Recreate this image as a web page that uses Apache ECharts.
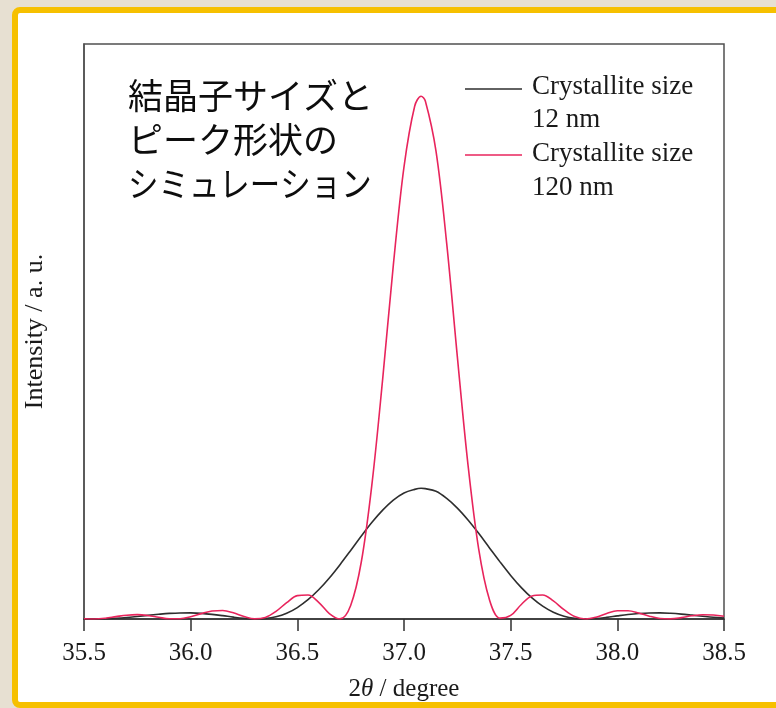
<!DOCTYPE html>
<html>
<head>
<meta charset="utf-8">
<script src="https://cdn.jsdelivr.net/npm/echarts@6/dist/echarts.min.js"></script>
<style>
  html, body { margin: 0; padding: 0; width: 776px; height: 708px; overflow: hidden;
    background: #e7e0d2; }
  #frame { position: absolute; left: 12px; top: 7px; width: 800px; height: 689px;
    border: 6px solid #f6c000; border-radius: 8px; background: #ffffff; }
  #chart { position: absolute; left: 0; top: 0; width: 776px; height: 708px; }
</style>
</head>
<body>
<div id="frame"></div>
<div id="chart"></div>
<script>
// Diffraction angle 2θ (degree)
const twoTheta = [
  35.50, 35.55, 35.60, 35.65, 35.70, 35.75, 35.80, 35.85, 35.90, 35.95,
  36.00, 36.05, 36.10, 36.15, 36.20, 36.25, 36.30, 36.35, 36.40, 36.45,
  36.50, 36.55, 36.60, 36.65, 36.70, 36.75, 36.80, 36.85, 36.90, 36.95,
  37.00, 37.05, 37.08, 37.10, 37.15, 37.20, 37.25, 37.30, 37.35, 37.40,
  37.45, 37.50, 37.55, 37.60, 37.65, 37.70, 37.75, 37.80, 37.85, 37.90,
  37.95, 38.00, 38.05, 38.10, 38.15, 38.20, 38.25, 38.30, 38.35, 38.40,
  38.45, 38.50
];

// Intensity (a. u.) for crystallite size 12 nm
const intensity12nm = [
  0.02, 0.00, 0.04, 0.14, 0.29, 0.49, 0.70, 0.90, 1.07, 1.16,
  1.17, 1.08, 0.89, 0.64, 0.36, 0.13, 0.00, 0.08, 0.42, 1.10,
  2.19, 3.69, 5.59, 7.85, 10.40, 13.11, 15.88, 18.50, 20.82, 22.75,
  24.12, 24.80, 25.00, 24.94, 24.42, 23.06, 21.22, 18.95, 16.39, 13.65,
  10.93, 8.34, 6.01, 4.03, 2.45, 1.29, 0.53, 0.12, 0.00, 0.09,
  0.31, 0.59, 0.85, 1.05, 1.16, 1.17, 1.09, 0.94, 0.74, 0.53,
  0.33, 0.17
];

// Intensity (a. u.) for crystallite size 120 nm
const intensity120nm = [
  0.06, 0.00, 0.15, 0.45, 0.73, 0.83, 0.67, 0.33, 0.04, 0.05,
  0.43, 1.03, 1.53, 1.62, 1.19, 0.48, 0.02, 0.29, 1.46, 3.13,
  4.47, 4.59, 3.20, 1.05, 0.02, 2.60, 10.95, 25.9, 45.9, 67.7,
  86.5, 98.1, 100.0, 99.1, 89.5, 71.9, 50.2, 29.5, 13.4, 3.76,
  0.16, 0.68, 2.78, 4.42, 4.60, 3.45, 1.78, 0.46, 0.00, 0.35,
  1.05, 1.57, 1.59, 1.15, 0.54, 0.10, 0.02, 0.26, 0.61, 0.82,
  0.77, 0.51
];

const seriesNames = ['Crystallite size 12 nm', 'Crystallite size 120 nm'];
const seriesColors = ['#2e2e2e', '#e8245c'];
const xTicks = { min: 35.5, max: 38.5, step: 0.5 };
const titleLines = ['結晶子サイズと', 'ピーク形状の', 'シミュレーション'];

const serif = '"Liberation Serif", "Times New Roman", serif';
const jp = '"Noto Sans CJK JP", "Noto Sans", sans-serif';

function pairs(xs, ys) { return xs.map((x, i) => [x, ys[i]]); }

const chart = echarts.init(document.getElementById('chart'), null, { renderer: 'canvas' });

chart.setOption({
  backgroundColor: 'transparent',
  animation: false,
  grid: {
    left: 84, top: 44, width: 640, height: 575,
    show: true, borderColor: '#505050', borderWidth: 1.5,
    backgroundColor: 'transparent'
  },
  xAxis: {
    type: 'value',
    min: xTicks.min, max: xTicks.max, interval: xTicks.step,
    axisLine: { show: true, onZero: false, lineStyle: { color: '#303030', width: 1.5 } },
    axisTick: { show: true, inside: false, length: 12, lineStyle: { color: '#303030', width: 1.5 } },
    splitLine: { show: false },
    axisLabel: {
      margin: 22, color: '#1a1a1a', fontFamily: serif, fontSize: 25,
      formatter: v => v.toFixed(1)
    },
    name: '2{i|θ} / degree',
    nameLocation: 'middle',
    nameGap: 58,
    nameTextStyle: {
      color: '#1a1a1a', fontFamily: serif, fontSize: 25,
      rich: { i: { fontFamily: serif, fontSize: 25, fontStyle: 'italic', color: '#1a1a1a' } }
    }
  },
  yAxis: {
    type: 'value',
    min: 0, max: 110,
    axisLine: { show: true, lineStyle: { color: '#505050', width: 1.5 } },
    axisTick: { show: false },
    axisLabel: { show: false },
    splitLine: { show: false },
    name: 'Intensity / a. u.',
    nameLocation: 'middle',
    nameGap: 36,
    nameTextStyle: { color: '#1a1a1a', fontFamily: serif, fontSize: 26 }
  },
  series: [
    {
      name: seriesNames[0], type: 'line', data: pairs(twoTheta, intensity12nm),
      showSymbol: false, smooth: 0.35, clip: true,
      lineStyle: { color: seriesColors[0], width: 1.6 }
    },
    {
      name: seriesNames[1], type: 'line', data: pairs(twoTheta, intensity120nm),
      showSymbol: false, smooth: 0.35, clip: true,
      lineStyle: { color: seriesColors[1], width: 1.6 }
    }
  ],
  graphic: [
    // Japanese heading, three lines
    { type: 'text', left: 128, top: 78,
      style: { text: titleLines[0], font: '35px ' + jp, fill: '#0d0d0d' } },
    { type: 'text', left: 128, top: 122,
      style: { text: titleLines[1], font: '35px ' + jp, fill: '#0d0d0d' } },
    { type: 'text', x: 128, y: 166, scaleX: 0.87,
      style: { text: titleLines[2], font: '35px ' + jp, fill: '#0d0d0d' } },
    // Legend
    { type: 'line', shape: { x1: 465, y1: 89, x2: 522, y2: 89 },
      style: { stroke: seriesColors[0], lineWidth: 1.6 } },
    { type: 'line', shape: { x1: 465, y1: 155, x2: 522, y2: 155 },
      style: { stroke: seriesColors[1], lineWidth: 1.6 } },
    { type: 'text', x: 532, y: 87,
      style: { text: 'Crystallite size', font: '27px ' + serif, fill: '#1a1a1a', verticalAlign: 'middle' } },
    { type: 'text', x: 532, y: 120,
      style: { text: '12 nm', font: '27px ' + serif, fill: '#1a1a1a', verticalAlign: 'middle' } },
    { type: 'text', x: 532, y: 154,
      style: { text: 'Crystallite size', font: '27px ' + serif, fill: '#1a1a1a', verticalAlign: 'middle' } },
    { type: 'text', x: 532, y: 188,
      style: { text: '120 nm', font: '27px ' + serif, fill: '#1a1a1a', verticalAlign: 'middle' } }
  ]
});
</script>
</body>
</html>
